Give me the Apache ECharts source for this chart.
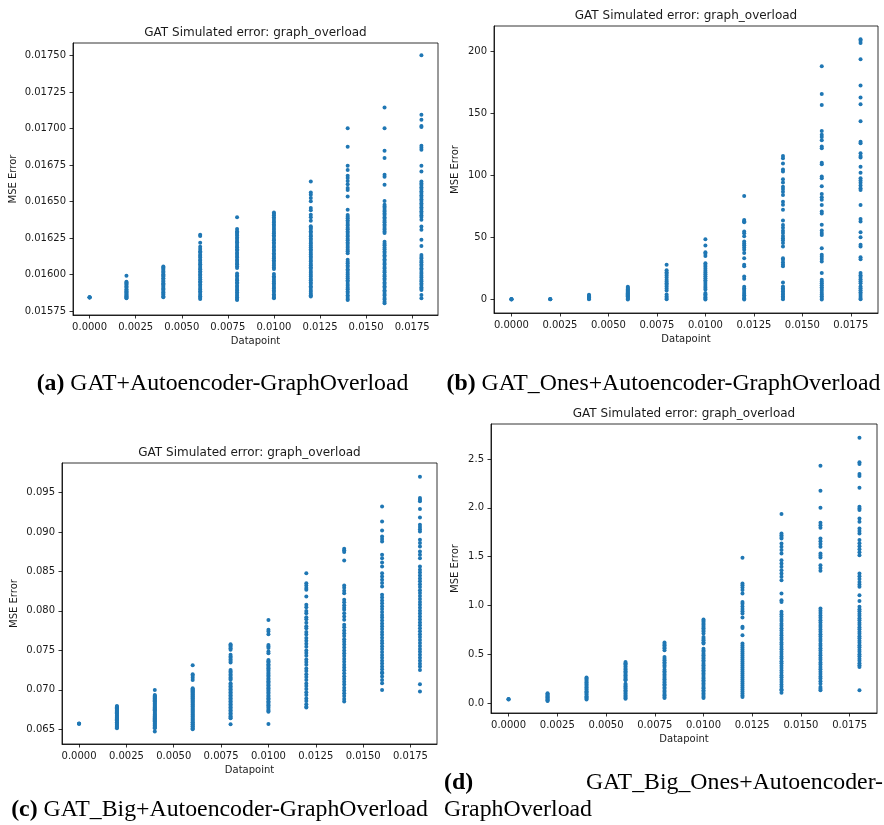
<!DOCTYPE html>
<html>
<head>
<meta charset="utf-8">
<title>GAT Simulated error: graph_overload</title>
<script src="https://cdn.jsdelivr.net/npm/echarts@6/dist/echarts.min.js"></script>
<style>
  html, body { margin: 0; padding: 0; background: #fff; }
  #chart { width: 884px; height: 825px; }
</style>
</head>
<body>
<div id="chart"></div>
<script>
// Datapoint positions shared by all four panels
const datapoints = [0, 0.002, 0.004, 0.006, 0.008, 0.010, 0.012, 0.014, 0.016, 0.018];

// Tick values
const xTicks = [0, 0.0025, 0.005, 0.0075, 0.01, 0.0125, 0.015, 0.0175];
const yTicksA = [0.01575, 0.016, 0.01625, 0.0165, 0.01675, 0.017, 0.01725, 0.0175];
const yTicksB = [0, 50, 100, 150, 200];
const yTicksC = [0.065, 0.07, 0.075, 0.08, 0.085, 0.09, 0.095];
const yTicksD = [0, 0.5, 1, 1.5, 2, 2.5];

// Captions
const captionA = ['(a)', 'GAT+Autoencoder-GraphOverload'];
const captionB = ['(b)', 'GAT_Ones+Autoencoder-GraphOverload'];
const captionC = ['(c)', 'GAT_Big+Autoencoder-GraphOverload'];
const captionD = ['(d)', 'GAT_Big_Ones+Autoencoder-', 'GraphOverload'];
const plotTitle = 'GAT Simulated error: graph_overload';

// (a) GAT+Autoencoder: MSE per datapoint column
const mseA = [
  [0.015843, 0.015844, 0.015845, 0.015843],
  [0.015992, 0.015951, 0.015946, 0.015938, 0.015931, 0.015922, 0.015917, 0.015909, 0.015898, 0.015894, 0.015886, 0.015879, 0.015870, 0.015864, 0.015857, 0.015850, 0.015846, 0.015841, 0.015838],
  [0.016055, 0.016048, 0.016039, 0.016031, 0.016020, 0.016013, 0.016002, 0.015993, 0.015986, 0.015975, 0.015969, 0.015958, 0.015950, 0.015941, 0.015934, 0.015923, 0.015915, 0.015905, 0.015898, 0.015887, 0.015879, 0.015868, 0.015862, 0.015851, 0.015845],
  [0.016272, 0.016263, 0.016218, 0.016190, 0.016174, 0.016160, 0.016151, 0.016136, 0.016127, 0.016116, 0.016102, 0.016094, 0.016080, 0.016071, 0.016059, 0.016045, 0.016036, 0.016022, 0.016013, 0.016000, 0.015991, 0.015979, 0.015968, 0.015954, 0.015945, 0.015931, 0.015922, 0.015908, 0.015898, 0.015885, 0.015875, 0.015862, 0.015852, 0.015841, 0.015832],
  [0.016392, 0.016311, 0.016297, 0.016288, 0.016277, 0.016267, 0.016254, 0.016244, 0.016230, 0.016221, 0.016209, 0.016196, 0.016186, 0.016173, 0.016164, 0.016149, 0.016140, 0.016127, 0.016116, 0.016102, 0.016093, 0.016079, 0.016070, 0.016057, 0.016045, 0.016007, 0.015994, 0.015984, 0.015970, 0.015961, 0.015947, 0.015938, 0.015924, 0.015915, 0.015901, 0.015891, 0.015878, 0.015867, 0.015854, 0.015844, 0.015832, 0.015826],
  [0.016424, 0.016416, 0.016406, 0.016392, 0.016381, 0.016367, 0.016356, 0.016343, 0.016332, 0.016319, 0.016307, 0.016293, 0.016283, 0.016269, 0.016258, 0.016244, 0.016234, 0.016219, 0.016210, 0.016195, 0.016185, 0.016170, 0.016161, 0.016146, 0.016136, 0.016122, 0.016111, 0.016097, 0.016087, 0.016073, 0.016062, 0.016048, 0.016038, 0.016003, 0.015989, 0.015978, 0.015964, 0.015953, 0.015940, 0.015929, 0.015915, 0.015905, 0.015890, 0.015880, 0.015865, 0.015855, 0.015843, 0.015838],
  [0.016637, 0.016561, 0.016546, 0.016524, 0.016501, 0.016455, 0.016440, 0.016410, 0.016392, 0.016368, 0.016331, 0.016321, 0.016311, 0.016296, 0.016286, 0.016271, 0.016262, 0.016247, 0.016237, 0.016222, 0.016212, 0.016198, 0.016187, 0.016173, 0.016162, 0.016149, 0.016138, 0.016124, 0.016113, 0.016099, 0.016089, 0.016074, 0.016064, 0.016050, 0.016039, 0.016025, 0.016013, 0.015998, 0.015987, 0.015972, 0.015961, 0.015946, 0.015935, 0.015920, 0.015909, 0.015894, 0.015883, 0.015868, 0.015858, 0.015849],
  [0.017001, 0.016875, 0.016745, 0.016716, 0.016677, 0.016661, 0.016640, 0.016618, 0.016592, 0.016578, 0.016535, 0.016443, 0.016408, 0.016396, 0.016385, 0.016371, 0.016360, 0.016346, 0.016335, 0.016320, 0.016310, 0.016295, 0.016285, 0.016270, 0.016260, 0.016245, 0.016235, 0.016220, 0.016209, 0.016195, 0.016184, 0.016169, 0.016159, 0.016146, 0.016101, 0.016087, 0.016077, 0.016062, 0.016051, 0.016037, 0.016026, 0.016012, 0.016001, 0.015986, 0.015975, 0.015961, 0.015950, 0.015935, 0.015924, 0.015910, 0.015899, 0.015884, 0.015873, 0.015858, 0.015847, 0.015833, 0.015826],
  [0.017143, 0.017001, 0.016848, 0.016797, 0.016683, 0.016670, 0.016614, 0.016504, 0.016478, 0.016466, 0.016456, 0.016442, 0.016432, 0.016417, 0.016407, 0.016393, 0.016382, 0.016368, 0.016358, 0.016343, 0.016333, 0.016319, 0.016309, 0.016294, 0.016284, 0.016225, 0.016211, 0.016200, 0.016185, 0.016173, 0.016158, 0.016147, 0.016132, 0.016121, 0.016105, 0.016094, 0.016079, 0.016068, 0.016052, 0.016041, 0.016026, 0.016015, 0.015999, 0.015988, 0.015973, 0.015962, 0.015946, 0.015935, 0.015920, 0.015909, 0.015893, 0.015882, 0.015867, 0.015856, 0.015840, 0.015829, 0.015814, 0.015804],
  [0.017501, 0.017094, 0.017060, 0.017016, 0.017010, 0.016882, 0.016868, 0.016855, 0.016745, 0.016706, 0.016637, 0.016624, 0.016613, 0.016597, 0.016585, 0.016570, 0.016558, 0.016542, 0.016531, 0.016515, 0.016503, 0.016488, 0.016476, 0.016460, 0.016449, 0.016433, 0.016421, 0.016406, 0.016394, 0.016375, 0.016329, 0.016306, 0.016238, 0.016196, 0.016134, 0.016120, 0.016109, 0.016094, 0.016084, 0.016069, 0.016058, 0.016043, 0.016032, 0.016017, 0.016006, 0.015991, 0.015980, 0.015965, 0.015954, 0.015939, 0.015928, 0.015913, 0.015902, 0.015894, 0.015860, 0.015838]
];

// (b) GAT_Ones+Autoencoder
const mseB = [
  [0.3, 0.5, 0.2, 0.4],
  [0.4, 0.6, 0.3],
  [3.9, 3.2, 2.6, 1.9, 1.3, 0.8, 0.4],
  [10.4, 9.6, 8.9, 8.1, 7.4, 6.6, 5.8, 5.1, 4.3, 3.6, 2.8, 2.1, 1.4, 0.7, 0.2],
  [28.1, 23.6, 22.0, 20.8, 19.4, 17.8, 16.1, 14.7, 13.3, 12.0, 10.6, 9.1, 7.4, 4.1, 2.6, 1.3, 0.3],
  [48.7, 43.5, 38.1, 36.9, 35.2, 29.3, 28.0, 26.4, 24.9, 23.2, 21.8, 20.4, 18.9, 17.3, 15.6, 14.2, 12.7, 11.1, 9.6, 8.1, 5.4, 4.3, 3.1, 1.9, 0.8, 0.2],
  [83.4, 64.1, 63.0, 62.2, 54.9, 53.4, 51.0, 46.8, 45.1, 43.7, 42.0, 40.1, 37.5, 33.4, 28.1, 26.8, 18.6, 16.8, 10.4, 9.1, 7.7, 6.2, 4.8, 3.5, 2.2, 1.0, 0.2],
  [115.5, 113.7, 109.6, 104.8, 103.1, 96.8, 94.2, 90.9, 89.0, 86.8, 84.1, 78.7, 76.4, 72.3, 63.6, 60.1, 57.9, 55.5, 53.6, 51.3, 49.5, 47.8, 45.6, 42.8, 33.4, 32.1, 30.2, 28.4, 26.9, 13.8, 10.6, 9.3, 8.0, 6.7, 5.4, 4.1, 2.8, 1.5, 0.3],
  [187.7, 165.4, 156.5, 135.7, 132.6, 130.9, 128.2, 123.1, 121.8, 110.2, 109.0, 99.0, 97.6, 91.3, 84.9, 82.4, 80.3, 76.1, 71.0, 69.4, 60.3, 55.6, 53.7, 52.1, 41.3, 36.1, 34.5, 32.7, 30.8, 21.4, 16.0, 14.7, 13.2, 11.6, 10.1, 8.7, 7.1, 5.6, 4.2, 2.7, 1.3, 0.2],
  [209.4, 208.3, 206.4, 193.3, 172.2, 162.6, 157.2, 143.6, 127.1, 125.8, 117.7, 115.6, 114.4, 107.0, 102.1, 97.6, 95.9, 94.0, 91.8, 89.6, 88.2, 76.2, 64.8, 62.9, 54.3, 50.3, 44.1, 42.8, 34.2, 32.6, 21.4, 19.7, 18.2, 16.4, 14.8, 13.3, 10.7, 9.2, 7.6, 6.0, 4.5, 2.9, 1.4, 0.3]
];

// (c) GAT_Big+Autoencoder
const mseC = [
  [0.06572, 0.06572, 0.06573],
  [0.06796, 0.06787, 0.06780, 0.06767, 0.06758, 0.06747, 0.06738, 0.06725, 0.06717, 0.06703, 0.06694, 0.06682, 0.06672, 0.06659, 0.06650, 0.06637, 0.06628, 0.06614, 0.06605, 0.06591, 0.06582, 0.06569, 0.06560, 0.06546, 0.06537, 0.06524, 0.06514],
  [0.06999, 0.06935, 0.06925, 0.06915, 0.06902, 0.06892, 0.06879, 0.06869, 0.06856, 0.06846, 0.06833, 0.06823, 0.06810, 0.06800, 0.06787, 0.06777, 0.06764, 0.06754, 0.06741, 0.06731, 0.06718, 0.06708, 0.06695, 0.06685, 0.06672, 0.06662, 0.06649, 0.06639, 0.06626, 0.06616, 0.06603, 0.06593, 0.06580, 0.06570, 0.06557, 0.06547, 0.06534, 0.06524, 0.06513, 0.06471],
  [0.07312, 0.07197, 0.07178, 0.07152, 0.07126, 0.07020, 0.07007, 0.06996, 0.06981, 0.06970, 0.06955, 0.06944, 0.06929, 0.06918, 0.06903, 0.06892, 0.06877, 0.06866, 0.06851, 0.06840, 0.06825, 0.06814, 0.06799, 0.06788, 0.06773, 0.06762, 0.06747, 0.06736, 0.06721, 0.06710, 0.06695, 0.06684, 0.06669, 0.06658, 0.06643, 0.06632, 0.06617, 0.06606, 0.06591, 0.06580, 0.06565, 0.06554, 0.06539, 0.06528, 0.06513, 0.06502],
  [0.07578, 0.07561, 0.07546, 0.07527, 0.07508, 0.07443, 0.07423, 0.07406, 0.07385, 0.07366, 0.07346, 0.07252, 0.07233, 0.07216, 0.07195, 0.07178, 0.07157, 0.07140, 0.07127, 0.07083, 0.07064, 0.07047, 0.07026, 0.07009, 0.06988, 0.06971, 0.06950, 0.06933, 0.06912, 0.06895, 0.06874, 0.06857, 0.06836, 0.06819, 0.06798, 0.06781, 0.06760, 0.06743, 0.06722, 0.06705, 0.06684, 0.06667, 0.06646, 0.06639, 0.06563],
  [0.07886, 0.07760, 0.07738, 0.07705, 0.07569, 0.07550, 0.07530, 0.07486, 0.07464, 0.07379, 0.07361, 0.07345, 0.07325, 0.07309, 0.07289, 0.07273, 0.07253, 0.07237, 0.07217, 0.07201, 0.07181, 0.07165, 0.07145, 0.07129, 0.07109, 0.07093, 0.07073, 0.07057, 0.07037, 0.07021, 0.07001, 0.06985, 0.06965, 0.06949, 0.06929, 0.06913, 0.06893, 0.06877, 0.06857, 0.06841, 0.06821, 0.06805, 0.06785, 0.06769, 0.06749, 0.06733, 0.06724, 0.06568],
  [0.08478, 0.08351, 0.08322, 0.08290, 0.08267, 0.08182, 0.08077, 0.08046, 0.07998, 0.07971, 0.07919, 0.07893, 0.07851, 0.07804, 0.07779, 0.07731, 0.07702, 0.07655, 0.07621, 0.07584, 0.07547, 0.07499, 0.07468, 0.07431, 0.07385, 0.07354, 0.07317, 0.07271, 0.07240, 0.07196, 0.07163, 0.07125, 0.07081, 0.07049, 0.07012, 0.06968, 0.06934, 0.06889, 0.06858, 0.06816, 0.06787, 0.06775],
  [0.08788, 0.08767, 0.08745, 0.08639, 0.08322, 0.08293, 0.08256, 0.08224, 0.08141, 0.08108, 0.08072, 0.08041, 0.08013, 0.07969, 0.07928, 0.07889, 0.07823, 0.07794, 0.07752, 0.07718, 0.07683, 0.07641, 0.07609, 0.07574, 0.07536, 0.07497, 0.07462, 0.07428, 0.07391, 0.07356, 0.07318, 0.07283, 0.07247, 0.07209, 0.07172, 0.07138, 0.07101, 0.07067, 0.07028, 0.06993, 0.06956, 0.06921, 0.06884, 0.06852],
  [0.09323, 0.09133, 0.09019, 0.08943, 0.08911, 0.08880, 0.08711, 0.08668, 0.08614, 0.08563, 0.08478, 0.08437, 0.08394, 0.08352, 0.08309, 0.08203, 0.08168, 0.08131, 0.08097, 0.08058, 0.08024, 0.07987, 0.07949, 0.07916, 0.07878, 0.07841, 0.07806, 0.07769, 0.07732, 0.07698, 0.07661, 0.07623, 0.07589, 0.07551, 0.07516, 0.07478, 0.07442, 0.07407, 0.07369, 0.07334, 0.07296, 0.07262, 0.07224, 0.07210, 0.07168, 0.07126, 0.07083, 0.06999],
  [0.09700, 0.09429, 0.09409, 0.09387, 0.09290, 0.09184, 0.09091, 0.09062, 0.09034, 0.09006, 0.08900, 0.08861, 0.08816, 0.08753, 0.08711, 0.08668, 0.08563, 0.08522, 0.08487, 0.08449, 0.08411, 0.08376, 0.08338, 0.08301, 0.08262, 0.08227, 0.08189, 0.08151, 0.08114, 0.08077, 0.08041, 0.08002, 0.07966, 0.07928, 0.07891, 0.07853, 0.07817, 0.07779, 0.07742, 0.07704, 0.07668, 0.07630, 0.07593, 0.07556, 0.07518, 0.07481, 0.07443, 0.07407, 0.07369, 0.07331, 0.07294, 0.07252, 0.07071, 0.06978]
];

// (d) GAT_Big_Ones+Autoencoder
const mseD = [
  [0.038, 0.040, 0.037],
  [0.100, 0.091, 0.084, 0.074, 0.067, 0.057, 0.050, 0.040, 0.033, 0.025, 0.021],
  [0.260, 0.250, 0.239, 0.225, 0.213, 0.198, 0.188, 0.173, 0.161, 0.147, 0.136, 0.120, 0.110, 0.095, 0.084, 0.069, 0.059, 0.045, 0.035],
  [0.421, 0.408, 0.397, 0.380, 0.369, 0.352, 0.341, 0.325, 0.312, 0.297, 0.285, 0.269, 0.257, 0.242, 0.232, 0.198, 0.184, 0.172, 0.157, 0.145, 0.130, 0.118, 0.103, 0.091, 0.076, 0.064, 0.050, 0.044],
  [0.619, 0.605, 0.591, 0.574, 0.562, 0.541, 0.472, 0.454, 0.438, 0.418, 0.403, 0.385, 0.369, 0.342, 0.324, 0.310, 0.291, 0.277, 0.258, 0.244, 0.225, 0.211, 0.192, 0.178, 0.159, 0.145, 0.126, 0.112, 0.093, 0.079, 0.061, 0.051],
  [0.855, 0.842, 0.830, 0.811, 0.799, 0.780, 0.766, 0.747, 0.732, 0.711, 0.677, 0.658, 0.642, 0.623, 0.609, 0.557, 0.539, 0.524, 0.505, 0.490, 0.471, 0.456, 0.437, 0.422, 0.403, 0.388, 0.369, 0.354, 0.335, 0.320, 0.301, 0.286, 0.267, 0.252, 0.233, 0.218, 0.199, 0.184, 0.165, 0.150, 0.131, 0.116, 0.097, 0.082, 0.063, 0.051],
  [1.488, 1.224, 1.206, 1.183, 1.158, 1.122, 1.036, 1.017, 0.989, 0.963, 0.940, 0.917, 0.875, 0.781, 0.769, 0.694, 0.609, 0.588, 0.569, 0.547, 0.528, 0.506, 0.487, 0.465, 0.446, 0.424, 0.405, 0.383, 0.364, 0.342, 0.323, 0.301, 0.282, 0.260, 0.241, 0.219, 0.200, 0.178, 0.159, 0.137, 0.118, 0.096, 0.078, 0.062],
  [1.936, 1.737, 1.719, 1.702, 1.686, 1.635, 1.601, 1.567, 1.532, 1.464, 1.430, 1.396, 1.361, 1.327, 1.293, 1.259, 1.122, 1.053, 1.036, 0.934, 0.910, 0.887, 0.861, 0.839, 0.813, 0.791, 0.765, 0.743, 0.717, 0.695, 0.669, 0.647, 0.621, 0.599, 0.573, 0.551, 0.525, 0.503, 0.477, 0.455, 0.429, 0.407, 0.381, 0.359, 0.333, 0.311, 0.285, 0.263, 0.237, 0.215, 0.189, 0.167, 0.141, 0.130, 0.106],
  [2.432, 2.175, 2.001, 1.847, 1.821, 1.795, 1.686, 1.658, 1.629, 1.600, 1.532, 1.511, 1.491, 1.412, 1.383, 1.354, 0.968, 0.944, 0.922, 0.896, 0.874, 0.848, 0.826, 0.800, 0.778, 0.752, 0.730, 0.704, 0.682, 0.656, 0.634, 0.608, 0.586, 0.560, 0.538, 0.512, 0.490, 0.464, 0.442, 0.416, 0.394, 0.368, 0.346, 0.320, 0.298, 0.272, 0.250, 0.224, 0.198, 0.164, 0.147, 0.130],
  [2.719, 2.466, 2.449, 2.346, 2.326, 2.206, 2.010, 1.993, 1.977, 1.891, 1.857, 1.789, 1.763, 1.737, 1.669, 1.638, 1.607, 1.576, 1.545, 1.515, 1.327, 1.298, 1.270, 1.241, 1.213, 1.190, 1.105, 1.046, 0.985, 0.961, 0.940, 0.915, 0.894, 0.868, 0.847, 0.822, 0.801, 0.776, 0.755, 0.730, 0.709, 0.684, 0.663, 0.638, 0.617, 0.591, 0.570, 0.545, 0.524, 0.499, 0.478, 0.453, 0.432, 0.407, 0.386, 0.369, 0.130]
];

// Panel layout (pixel boxes of each plotting area) and value ranges
const panels = [
  { values: mseA, yTicks: yTicksA, yMin: 0.015723, yMax: 0.017585, digits: 5, box: { left: 73, top: 43, width: 365, height: 272 }, yNameGap: 55, caption: captionA },
  { values: mseB, yTicks: yTicksB, yMin: -10.7, yMax: 220.1, digits: 0, box: { left: 494, top: 26, width: 384, height: 287 }, yNameGap: 34, caption: captionB },
  { values: mseC, yTicks: yTicksC, yMin: 0.06314, yMax: 0.09873, digits: 3, box: { left: 62, top: 463, width: 375, height: 281 }, yNameGap: 43, caption: captionC },
  { values: mseD, yTicks: yTicksD, yMin: -0.1026, yMax: 2.859, digits: 1, box: { left: 491, top: 424, width: 386, height: 289 }, yNameGap: 31, caption: captionD }
];

const X_MIN = -0.0009, X_MAX = 0.0189;
const TICK_FONT = 'DejaVu Sans';
const INK = '#1a1a1a';
const DOT = '#1f77b4';

const grids = [], xAxes = [], yAxes = [], series = [], graphics = [];

panels.forEach((p, i) => {
  grids.push(Object.assign({ show: true, borderColor: '#000', borderWidth: 0.8, backgroundColor: '#fff', containLabel: false }, p.box));

  xAxes.push({
    type: 'value', gridIndex: i, min: X_MIN, max: X_MAX, position: 'bottom',
    name: 'Datapoint', nameLocation: 'middle', nameGap: 21,
    nameTextStyle: { fontFamily: TICK_FONT, fontSize: 10, color: INK },
    axisLine: { show: true, onZero: false, lineStyle: { color: '#000', width: 0.8 } },
    splitLine: { show: false },
    axisTick: { show: true, inside: false, length: 3.5, customValues: xTicks, lineStyle: { color: '#000', width: 0.8 } },
    axisLabel: { customValues: xTicks, margin: 7, fontFamily: TICK_FONT, fontSize: 10, color: INK, formatter: v => v.toFixed(4) }
  });

  yAxes.push({
    type: 'value', gridIndex: i, min: p.yMin, max: p.yMax, position: 'left',
    name: 'MSE Error', nameLocation: 'middle', nameGap: p.yNameGap, nameRotate: 90,
    nameTextStyle: { fontFamily: TICK_FONT, fontSize: 10, color: INK },
    axisLine: { show: true, onZero: false, lineStyle: { color: '#000', width: 0.8 } },
    splitLine: { show: false },
    axisTick: { show: true, inside: false, length: 3.5, customValues: p.yTicks, lineStyle: { color: '#000', width: 0.8 } },
    axisLabel: { customValues: p.yTicks, margin: 7, fontFamily: TICK_FONT, fontSize: 10, color: INK, formatter: v => v.toFixed(p.digits) }
  });

  const pts = [];
  p.values.forEach((col, j) => col.forEach(v => pts.push([datapoints[j], v])));
  series.push({
    type: 'scatter', xAxisIndex: i, yAxisIndex: i, data: pts,
    symbol: 'circle', symbolSize: 4, silent: true,
    itemStyle: { color: DOT, opacity: 1 }
  });

  // Plot title, centred over the plotting area
  graphics.push({
    type: 'text', x: p.box.left + p.box.width / 2, y: p.box.top - 10.5,
    style: { text: plotTitle, fill: INK, font: '12px "DejaVu Sans"', textAlign: 'center', textVerticalAlign: 'middle' }
  });
});

// Sub-figure captions (serif, label in bold)
const CAP_SIZE = 23.8;
const capFont = CAP_SIZE + 'px "Liberation Serif"';
const capRich = {
  b: { fontWeight: 'bold', fontFamily: 'Liberation Serif', fontSize: CAP_SIZE, fill: '#000' },
  n: { fontFamily: 'Liberation Serif', fontSize: CAP_SIZE, fill: '#000' }
};
function caption(x, y, text, align) {
  return { type: 'text', x: x, y: y, style: { text: text, rich: capRich, font: capFont, fill: '#000', textAlign: align, textVerticalAlign: 'middle' } };
}
graphics.push(caption(222.5, 384, '{b|' + captionA[0] + '} {n|' + captionA[1] + '}', 'center'));
graphics.push(caption(663.5, 384, '{b|' + captionB[0] + '} {n|' + captionB[1] + '}', 'center'));
graphics.push(caption(219.5, 810, '{b|' + captionC[0] + '} {n|' + captionC[1] + '}', 'center'));
graphics.push(caption(444, 783, '{b|' + captionD[0] + '}', 'left'));
graphics.push(caption(883, 783, '{n|' + captionD[1] + '}', 'right'));
graphics.push(caption(444, 810, '{n|' + captionD[2] + '}', 'left'));

const chart = echarts.init(document.getElementById('chart'), null, { renderer: 'canvas' });
chart.setOption({
  backgroundColor: '#fff',
  animation: false,
  grid: grids,
  xAxis: xAxes,
  yAxis: yAxes,
  series: series,
  graphic: graphics
});
</script>
</body>
</html>
